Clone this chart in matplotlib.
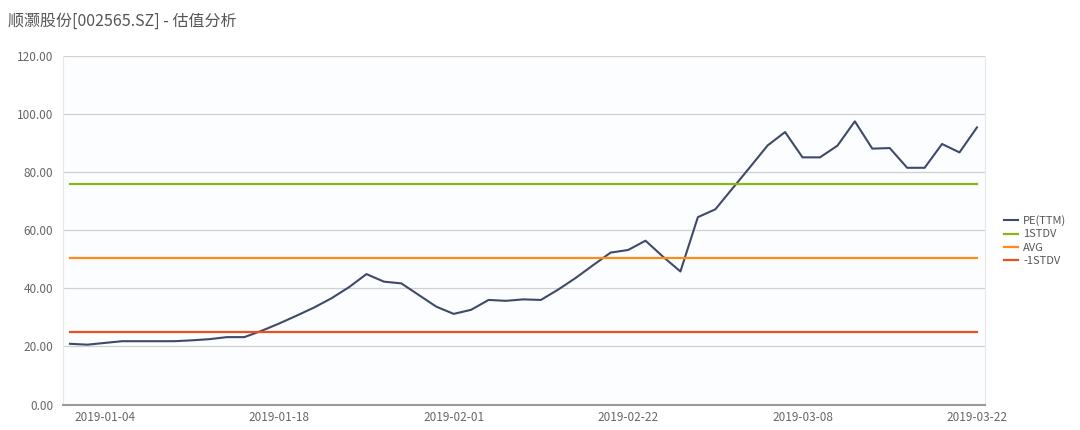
import matplotlib
matplotlib.use('Agg')
import matplotlib.pyplot as plt
import numpy as np

plt.rcParams['font.family'] = ['Noto Sans CJK SC', 'DejaVu Sans']

# trading days 2019-01-02 .. 2019-03-22
dates = ['2019-01-02', '2019-01-03', '2019-01-04', '2019-01-07', '2019-01-08', '2019-01-09',
         '2019-01-10', '2019-01-11', '2019-01-14', '2019-01-15', '2019-01-16', '2019-01-17',
         '2019-01-18', '2019-01-21', '2019-01-22', '2019-01-23', '2019-01-24', '2019-01-25',
         '2019-01-28', '2019-01-29', '2019-01-30', '2019-01-31', '2019-02-01', '2019-02-11',
         '2019-02-12', '2019-02-13', '2019-02-14', '2019-02-15', '2019-02-18', '2019-02-19',
         '2019-02-20', '2019-02-21', '2019-02-22', '2019-02-25', '2019-02-26', '2019-02-27',
         '2019-02-28', '2019-03-01', '2019-03-04', '2019-03-05', '2019-03-06', '2019-03-07',
         '2019-03-08', '2019-03-11', '2019-03-12', '2019-03-13', '2019-03-14', '2019-03-15',
         '2019-03-18', '2019-03-19', '2019-03-20', '2019-03-21', '2019-03-22']

pe_ttm = [20.9, 20.6, 21.2, 21.8, 21.8, 21.8, 21.8, 22.1, 22.5, 23.2, 23.2,
          25.4, 27.9, 30.6, 33.4, 36.6, 40.4, 44.9, 42.3, 41.7, 37.7, 33.7,
          31.2, 32.6, 36.0, 35.7, 36.2, 36.0, 39.6, 43.6, 48.0, 52.3, 53.2,
          56.4, 50.9, 45.8, 64.5, 67.2, 74.5, 81.8, 89.2, 93.8, 85.1, 85.1,
          89.1, 97.5, 88.1, 88.3, 81.5, 81.5, 89.7, 86.8, 95.4]

stdv_up = 75.8
avg = 50.3
stdv_down = 24.8

x = np.arange(len(dates))

fig = plt.figure(figsize=(10.8, 4.3), dpi=100)
ax = fig.add_axes([0.0583, 0.0593, 0.8537, 0.8105])

ax.plot(x, pe_ttm, color='#3f4a6b', lw=1.5, label='PE(TTM)')
ax.plot(x, [stdv_up] * len(x), color='#8cb51c', lw=1.6, label='1STDV')
ax.plot(x, [avg] * len(x), color='#ff8c1a', lw=1.6, label='AVG')
ax.plot(x, [stdv_down] * len(x), color='#e8501e', lw=1.6, label='-1STDV')

ax.set_xlim(-0.4, 52.46)
ax.set_ylim(0, 120)
ax.set_yticks(np.arange(0, 121, 20))
ax.set_yticklabels(['%.2f' % v for v in np.arange(0, 121, 20)])
tick_idx = list(range(2, len(dates), 10))
ax.set_xticks(tick_idx)
ax.set_xticklabels([dates[i] for i in tick_idx])

ax.grid(axis='y', color='#d0d0d0', lw=0.9)
ax.set_axisbelow(True)
ax.tick_params(length=0, labelsize=8.5, colors='#666666', pad=7)
ax.tick_params(axis='x', pad=5)
for s in ['left', 'right']:
    ax.spines[s].set_color('#e4e8ee')
ax.spines['top'].set_visible(False)
ax.spines['bottom'].set_color('#9a9a9a')
ax.spines['bottom'].set_linewidth(1.5)
ax.set_facecolor('#fcfdfe')

fig.text(0.007, 0.95, '顺灏股份[002565.SZ] - 估值分析', fontsize=11.5,
         color='#555555', va='center', ha='left')

ax.legend(loc='center left', bbox_to_anchor=(1.01, 0.47), frameon=False,
          fontsize=8, handlelength=1.2, handletextpad=0.5, labelspacing=0.3,
          labelcolor='#555555')

plt.savefig('out.png', dpi=100)
